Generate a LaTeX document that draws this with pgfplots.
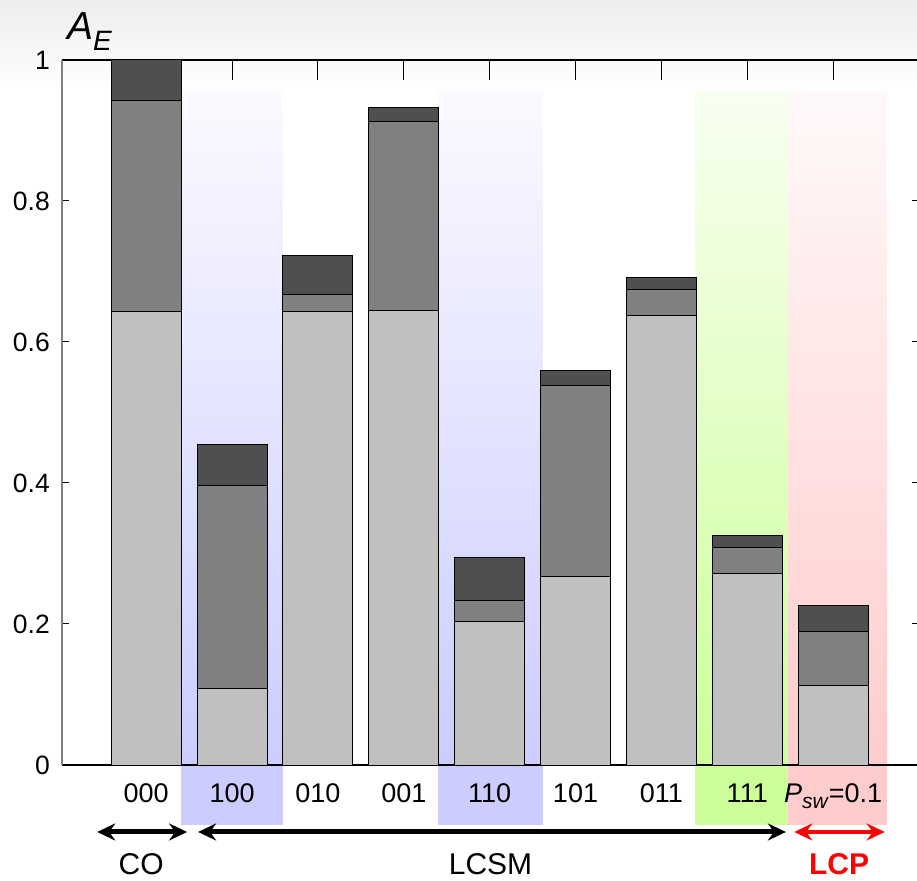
\documentclass[border=0pt]{standalone}
\usepackage{fontspec}
\setmainfont{Liberation Sans}
\usepackage{pgfplots}
\pgfplotsset{compat=1.18}
\usetikzlibrary{arrows.meta}
\definecolor{cLight}{HTML}{C0C0C0}
\definecolor{cMid}{HTML}{808080}
\definecolor{cDark}{HTML}{4F4F4F}
\definecolor{cBlue}{HTML}{CCCCFF}
\definecolor{cGreen}{HTML}{CCFF99}
\definecolor{cRed}{HTML}{FFCCCC}
\pgfplotstableread{
x light mid dark
0 0.643 0.299 0.058
1 0.109 0.287 0.059
2 0.643 0.025 0.054
3 0.645 0.268 0.020
4 0.204 0.030 0.060
5 0.268 0.271 0.020
6 0.638 0.037 0.017
7 0.272 0.037 0.016
8 0.113 0.076 0.037
}\datatable
\pgfplotsset{common/.style={
  at={(62pt,115pt)}, anchor=south west,
  scale only axis, width=857pt, height=705pt,
  xmin=-0.98, xmax=9, ymin=0, ymax=1,
  clip=false}}
\tikzset{garrow/.style={{Stealth[length=18pt,width=17pt,inset=6pt]}-{Stealth[length=18pt,width=17pt,inset=6pt]}}}
\begin{document}
\begin{tikzpicture}[x=1pt,y=1pt]
\path[use as bounding box] (0,0) rectangle (917,880);
\shade[top color=black!7, bottom color=white] (0,790) rectangle (917,880);
% background columns
\begin{axis}[common, hide axis]
\shade[top color=cBlue!10, bottom color=cBlue] (axis cs:0.407,0.955) rectangle (axis cs:1.593,0);
\fill[cBlue] (axis cs:0.407,0) rectangle (axis cs:1.593,-0.085);
\shade[top color=cBlue!10, bottom color=cBlue] (axis cs:3.395,0.955) rectangle (axis cs:4.616,0);
\fill[cBlue] (axis cs:3.395,0) rectangle (axis cs:4.616,-0.085);
\shade[top color=cGreen!15, bottom color=cGreen] (axis cs:6.395,0.955) rectangle (axis cs:7.477,0);
\fill[cGreen] (axis cs:6.395,0) rectangle (axis cs:7.477,-0.085);
\shade[top color=cRed!12, bottom color=cRed] (axis cs:7.477,0.955) rectangle (axis cs:8.628,0);
\fill[cRed] (axis cs:7.477,0) rectangle (axis cs:8.628,-0.085);
\end{axis}
\begin{axis}[
  common,
  ybar stacked, bar width=70pt,
  xtick={0,...,8},
  xticklabels={000,100,010,001,110,101,011,111,{\textit{P}\raisebox{-6pt}{\fontsize{21}{22}\selectfont\textit{sw}}=0.1}},
  x tick style={draw=none},
  xticklabel style={font=\fontsize{27}{29}\selectfont, anchor=base, yshift=-37pt, inner sep=0pt},
  ytick={0,0.2,0.4,0.6,0.8,1},
  yticklabel style={font=\fontsize{26.5}{28}\selectfont, anchor=east, xshift=-12pt, inner sep=0pt},
  /pgf/number format/assume math mode=true,
  ytick pos=both, tick align=inside, major tick length=7pt,
  y tick style={black, line width=1pt},
  axis line style={black, line width=1.2pt},
  separate axis lines,
  y axis line style={draw=gray},
]
\addplot[fill=cLight, draw=black, line width=1pt] table[x=x, y=light] {\datatable};
\addplot[fill=cMid, draw=black, line width=1pt] table[x=x, y=mid] {\datatable};
\addplot[fill=cDark, draw=black, line width=1pt] table[x=x, y=dark] {\datatable};
% top ticks
\pgfplotsinvokeforeach{0,...,8}{\draw[black, line width=1pt] (axis cs:#1,1) -- (axis cs:#1,0.9716);}
% title
\node[anchor=base west, inner sep=0pt] at (rel axis cs:0,1) [xshift=5pt, yshift=20pt]
  {\fontsize{39}{40}\selectfont\itshape A\raisebox{-11pt}{\fontsize{28}{30}\selectfont E}};
% group arrows
\draw[line width=5pt, garrow] (axis cs:-0.57,-0.095) -- (axis cs:0.477,-0.095);
\draw[line width=5pt, garrow] (axis cs:0.605,-0.095) -- (axis cs:7.45,-0.095);
\draw[red, line width=4pt, garrow] (axis cs:7.547,-0.095) -- (axis cs:8.6,-0.095);
\node[inner sep=0pt, font=\fontsize{30}{32}\selectfont] at (axis cs:-0.058,-0.1404) {CO};
\node[inner sep=0pt, font=\fontsize{30}{32}\selectfont] at (axis cs:4.01,-0.1404) {LCSM};
\node[inner sep=0pt, text=red, font=\fontsize{30}{32}\selectfont\bfseries] at (axis cs:8.07,-0.1404) {LCP};
\end{axis}
\end{tikzpicture}
\end{document}
